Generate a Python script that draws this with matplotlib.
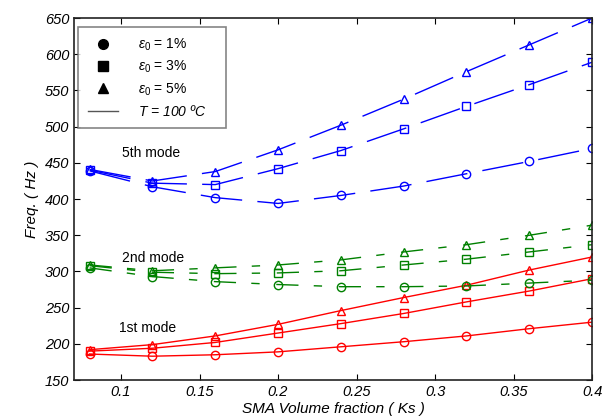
import matplotlib
matplotlib.use("Agg")
import matplotlib.pyplot as plt
from matplotlib.lines import Line2D

plt.rcParams['font.family'] = ['Liberation Sans', 'DejaVu Sans']
plt.rcParams['mathtext.fontset'] = 'custom'
plt.rcParams['mathtext.it'] = 'Liberation Sans:italic'
plt.rcParams['mathtext.rm'] = 'Liberation Sans'

# fraccion volumetrica de SMA
ks = [0.08, 0.12, 0.16, 0.2, 0.24, 0.28, 0.32, 0.36, 0.4]

# 1er modo
m1_e1 = [186, 183, 185, 189, 196, 203, 211, 221, 230]
m1_e3 = [190, 194, 202, 215, 228, 242, 258, 273, 290]
m1_e5 = [192, 199, 211, 227, 246, 264, 281, 302, 320]
# 2do modo
m2_e1 = [305, 293, 286, 282, 279, 279, 280, 284, 288]
m2_e3 = [308, 299, 297, 298, 301, 309, 317, 327, 337]
m2_e5 = [309, 301, 305, 309, 316, 327, 337, 350, 364]
# 5to modo
m5_e1 = [439, 417, 402, 394, 405, 418, 435, 452, 470]
m5_e3 = [440, 422, 420, 442, 467, 497, 528, 558, 589]
m5_e5 = [441, 425, 438, 468, 502, 538, 576, 613, 650]

rojo = '#ff0000'
verde = '#008000'
azul = '#0000ff'
dash_verde = (0, (16, 11, 6, 12))
dash_azul = (0, (30, 11))

fig = plt.figure(figsize=(6.11, 4.2), dpi=100)
ax = fig.add_axes([0.121, 0.095, 0.848, 0.862])

estilo = dict(lw=1, ms=6, mew=1, mfc='none')
for serie, mk in zip([m1_e1, m1_e3, m1_e5], ['o', 's', '^']):
    ax.plot(ks, serie, color=rojo, ls='-', marker=mk, **estilo)
for serie, mk in zip([m2_e1, m2_e3, m2_e5], ['o', 's', '^']):
    ax.plot(ks, serie, color=verde, ls=dash_verde, marker=mk, **estilo)
for serie, mk in zip([m5_e1, m5_e3, m5_e5], ['o', 's', '^']):
    ax.plot(ks, serie, color=azul, ls=dash_azul, marker=mk, **estilo)

ax.text(0.1005, 463, '5th mode', fontsize=10, va='center', ha='left')
ax.text(0.1005, 318, '2nd mode', fontsize=10, va='center', ha='left')
ax.text(0.099, 222, '1st mode', fontsize=10, va='center', ha='left')

ax.set_xlim(0.07, 0.4)
ax.set_ylim(150, 650)
ax.set_xticks([0.1, 0.15, 0.2, 0.25, 0.3, 0.35, 0.4])
ax.set_xticklabels(['0.1', '0.15', '0.2', '0.25', '0.3', '0.35', '0.4'])
ax.set_yticks(range(150, 651, 50))
ax.tick_params(direction='in', top=True, right=True, length=4, labelsize=10.5)
for lab in ax.get_xticklabels() + ax.get_yticklabels():
    lab.set_fontstyle('italic')
for s in ax.spines.values():
    s.set_linewidth(1.2)
    s.set_color('#222222')

ax.set_xlabel('SMA Volume fraction ( Ks )', fontsize=11, fontstyle='italic', labelpad=2)
ax.set_ylabel('Freq. ( Hz )', fontsize=11, fontstyle='italic', labelpad=4)

handles = [
    Line2D([], [], color='k', marker='o', ls='none', ms=7),
    Line2D([], [], color='k', marker='s', ls='none', ms=7),
    Line2D([], [], color='k', marker='^', ls='none', ms=7),
    Line2D([], [], color='#555555', ls='-', lw=1),
]
labels = [r'$\varepsilon_0$ = 1%', r'$\varepsilon_0$ = 3%', r'$\varepsilon_0$ = 5%',
          r'$T$ = 100 ºC']
leg = ax.legend(handles, labels, loc='upper left', bbox_to_anchor=(0.008, 0.0, 0.286, 0.975),
                mode='expand', borderaxespad=0, fontsize=10, frameon=True, fancybox=False,
                handlelength=2.2, handletextpad=1.4, labelspacing=0.42,
                borderpad=0.7)
leg.get_frame().set_edgecolor('#666666')
leg.get_frame().set_linewidth(1.2)
for t in leg.get_texts()[3:]:
    t.set_fontstyle('italic')

fig.savefig('out.png', dpi=100)
